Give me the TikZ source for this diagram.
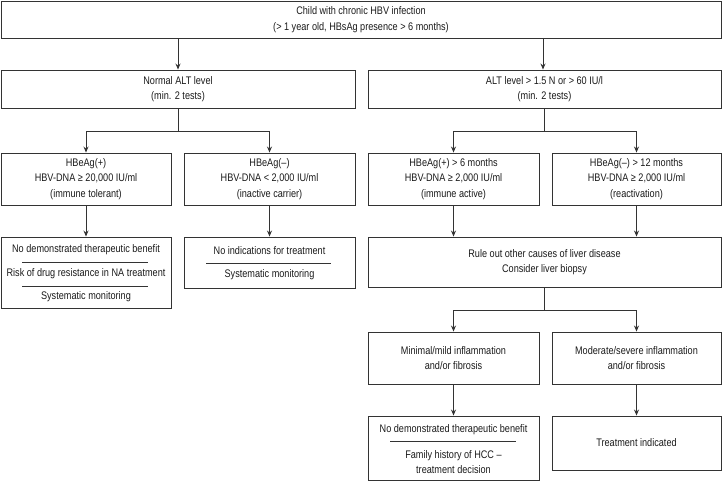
\documentclass[tikz,border=0pt]{standalone}
\usepackage{fontspec}
\setmainfont{Liberation Sans}[FakeStretch=0.83]
\usetikzlibrary{arrows.meta}
\definecolor{edge}{HTML}{333333}
\definecolor{ink}{HTML}{1A1A1A}
\begin{document}
\begin{tikzpicture}[x=1pt,y=-1pt,
  box/.style={draw=edge,line width=0.9pt,align=center,inner sep=0pt,text=ink,font=\fontsize{11}{15.5}\selectfont},
  txt/.style={inner sep=0pt,align=center,text=ink,font=\fontsize{11}{15.5}\selectfont},
  arr/.style={draw=edge,line width=0.9pt,-{Stealth[length=6pt,width=5pt]}},
  ln/.style={draw=edge,line width=0.9pt},
  sepline/.style={draw=edge,line width=0.6pt}]
\useasboundingbox (0,0) rectangle (722,481);

% boxes
\node[box,minimum width=720pt,minimum height=37pt] (top) at (361,19.5)
  {Child with chronic HBV infection\\(> 1 year old, HBsAg presence > 6 months)};
\node[box,minimum width=354pt,minimum height=38pt] (altn) at (178,89)
  {Normal ALT level\\(min. 2 tests)};
\node[box,minimum width=353pt,minimum height=38pt] (alth) at (544.5,89)
  {ALT level > 1.5 N or > 60 IU/l\\(min. 2 tests)};

\node[box,minimum width=170pt,minimum height=52pt] (hbp) at (86,179)
  {HBeAg(+)\\HBV-DNA ≥ 20,000 IU/ml\\(immune tolerant)};
\node[box,minimum width=171pt,minimum height=52pt] (hbn) at (269.5,179)
  {HBeAg(–)\\HBV-DNA < 2,000 IU/ml\\(inactive carrier)};
\node[box,minimum width=171pt,minimum height=52pt] (ia) at (453.5,179)
  {HBeAg(+) > 6 months\\HBV-DNA ≥ 2,000 IU/ml\\(immune active)};
\node[box,minimum width=169pt,minimum height=52pt] (ra) at (636.5,179)
  {HBeAg(–) > 12 months\\HBV-DNA ≥ 2,000 IU/ml\\(reactivation)};

% left result boxes
\node[box,minimum width=170pt,minimum height=71pt] (res1) at (86,272.5) {};
\node[txt] (r1a) at (86,250) {No demonstrated therapeutic benefit};
\node[txt] (r1b) at (86,273.5) {Risk of drug resistance in NA treatment};
\node[txt] (r1c) at (86,297) {Systematic monitoring};
\draw[sepline] (22,262) -- (148,262);
\draw[sepline] (22,286) -- (148,286);

\node[box,minimum width=171pt,minimum height=51pt] (res2) at (269.5,262.5) {};
\node[txt] (r2a) at (269.5,251) {No indications for treatment};
\node[txt] (r2b) at (269.5,275) {Systematic monitoring};
\draw[sepline] (206,263) -- (331,263);

\node[box,minimum width=353pt,minimum height=50pt] (rule) at (544.5,262)
  {Rule out other causes of liver disease\\Consider liver biopsy};

\node[box,minimum width=171pt,minimum height=52pt] (minb) at (453.5,358)
  {Minimal/mild inflammation\\and/or fibrosis};
\node[box,minimum width=169pt,minimum height=52pt] (modb) at (636.5,358)
  {Moderate/severe inflammation\\and/or fibrosis};

\node[box,minimum width=171pt,minimum height=64pt] (res3) at (453.5,448) {};
\node[txt] (r3a) at (453.5,430) {No demonstrated therapeutic benefit};
\node[txt] (r3b) at (453.5,462) {Family history of HCC –\\treatment decision};
\draw[sepline] (390,441.5) -- (516,441.5);

\node[box,minimum width=169pt,minimum height=54pt] (treat) at (636.5,443)
  {Treatment indicated};

% connectors
\draw[arr] (altn.north |- top.south) -- (altn.north);
\draw[arr] (543,38) coordinate (tr) -- (tr |- alth.north);

\coordinate (bl) at (178,131);
\draw[ln] (altn.south) -- (bl);
\draw[arr] (bl) -| (hbp.north);
\draw[arr] (bl) -| (hbn.north);

\coordinate (br) at (544.5,131);
\draw[ln] (alth.south) -- (br);
\draw[arr] (br) -| (ia.north);
\draw[arr] (br) -| (ra.north);

\draw[arr] (hbp.south) -- (res1.north);
\draw[arr] (hbn.south) -- (res2.north);
\draw[arr] (ia.south) -- (ia.south |- rule.north);
\draw[arr] (ra.south) -- (ra.south |- rule.north);

\coordinate (bm) at (544.5,310);
\draw[ln] (rule.south) -- (bm);
\draw[arr] (bm) -| (minb.north);
\draw[arr] (bm) -| (modb.north);

\draw[arr] (minb.south) -- (res3.north);
\draw[arr] (modb.south) -- (treat.north);
\end{tikzpicture}
\end{document}
